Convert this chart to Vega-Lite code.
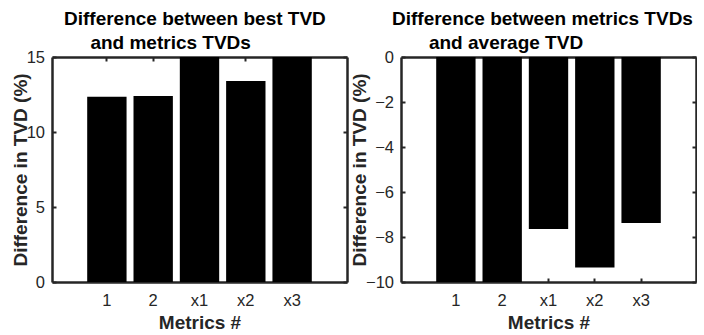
{
  "$schema": "https://vega.github.io/schema/vega-lite/v6.json",
  "padding": {"left": 11, "top": 9, "right": 0, "bottom": 0},
  "spacing": 2,
  "config": {
    "view": {"stroke": null},
    "font": "Liberation Sans",
    "title": {"font": "Liberation Sans", "fontSize": 19, "fontWeight": "bold", "color": "#000000", "anchor": "start", "frame": "group", "lineHeight": 24.3, "offset": -4},
    "axis": {"labelFont": "Liberation Sans", "labelFontSize": 16.5, "labelColor": "#262626", "titleFont": "Liberation Sans", "titleFontSize": 19, "titleFontWeight": "bold", "titleColor": "#262626", "domainColor": "#262626", "domainWidth": 2.5, "tickColor": "#262626", "tickWidth": 2, "tickSize": -4, "grid": false, "labelFlush": false}
  },
  "hconcat": [
    {
      "width": 295, "height": 225,
      "title": {"text": ["Difference between best TVD", "\u200b\u00a0\u00a0\u00a0\u00a0\u00a0and metrics TVDs"], "dx": 12},
      "data": {"values": [
        {"metric": "1", "diff": 12.35},
        {"metric": "2", "diff": 12.4},
        {"metric": "x1", "diff": 15.5},
        {"metric": "x2", "diff": 13.4},
        {"metric": "x3", "diff": 15.5}
      ]},
      "layer": [
        {"mark": {"type": "bar", "color": "#000000", "clip": true},
         "encoding": {
           "x": {"field": "metric", "type": "nominal", "sort": null, "scale": {"paddingInner": 0.15, "paddingOuter": 0.76}, "axis": {"orient": "bottom", "labelAngle": 0, "labelPadding": 14, "title": "Metrics #", "titlePadding": 5}},
           "y": {"field": "diff", "type": "quantitative", "scale": {"domain": [0, 15], "nice": false}, "axis": {"orient": "left", "values": [0, 5, 10, 15], "labelPadding": 11.5, "title": "Difference in TVD (%)", "titlePadding": -4}}
         }},
        {"mark": {"type": "bar", "opacity": 0, "clip": true},
         "encoding": {
           "x": {"field": "metric", "type": "nominal", "sort": null, "axis": {"orient": "top", "labels": false, "title": null}},
           "y": {"field": "diff", "type": "quantitative", "axis": {"orient": "right", "labels": false, "title": null, "values": [0, 5, 10, 15]}}
         }}
      ],
      "resolve": {"axis": {"x": "independent", "y": "independent"}}
    },
    {
      "width": 295, "height": 225,
      "title": {"text": ["Difference between metrics TVDs", "\u200b\u00a0\u00a0\u00a0\u00a0\u00a0\u00a0\u00a0and average TVD"], "dx": -9},
      "data": {"values": [
        {"metric": "1", "diff": -10},
        {"metric": "2", "diff": -10},
        {"metric": "x1", "diff": -7.64},
        {"metric": "x2", "diff": -9.36},
        {"metric": "x3", "diff": -7.38}
      ]},
      "layer": [
        {"mark": {"type": "bar", "color": "#000000", "clip": true},
         "encoding": {
           "x": {"field": "metric", "type": "nominal", "sort": null, "scale": {"paddingInner": 0.15, "paddingOuter": 0.76}, "axis": {"orient": "bottom", "labelAngle": 0, "labelPadding": 14, "title": "Metrics #", "titlePadding": 5}},
           "y": {"field": "diff", "type": "quantitative", "scale": {"domain": [-10, 0], "nice": false}, "axis": {"orient": "left", "values": [-10, -8, -6, -4, -2, 0], "labelPadding": 11.5, "title": "Difference in TVD (%)", "titlePadding": -4}}
         }},
        {"mark": {"type": "bar", "opacity": 0, "clip": true},
         "encoding": {
           "x": {"field": "metric", "type": "nominal", "sort": null, "axis": {"orient": "top", "labels": false, "title": null}},
           "y": {"field": "diff", "type": "quantitative", "axis": {"orient": "right", "labels": false, "title": null, "values": [-10, -8, -6, -4, -2, 0]}}
         }}
      ],
      "resolve": {"axis": {"x": "independent", "y": "independent"}}
    }
  ]
}
